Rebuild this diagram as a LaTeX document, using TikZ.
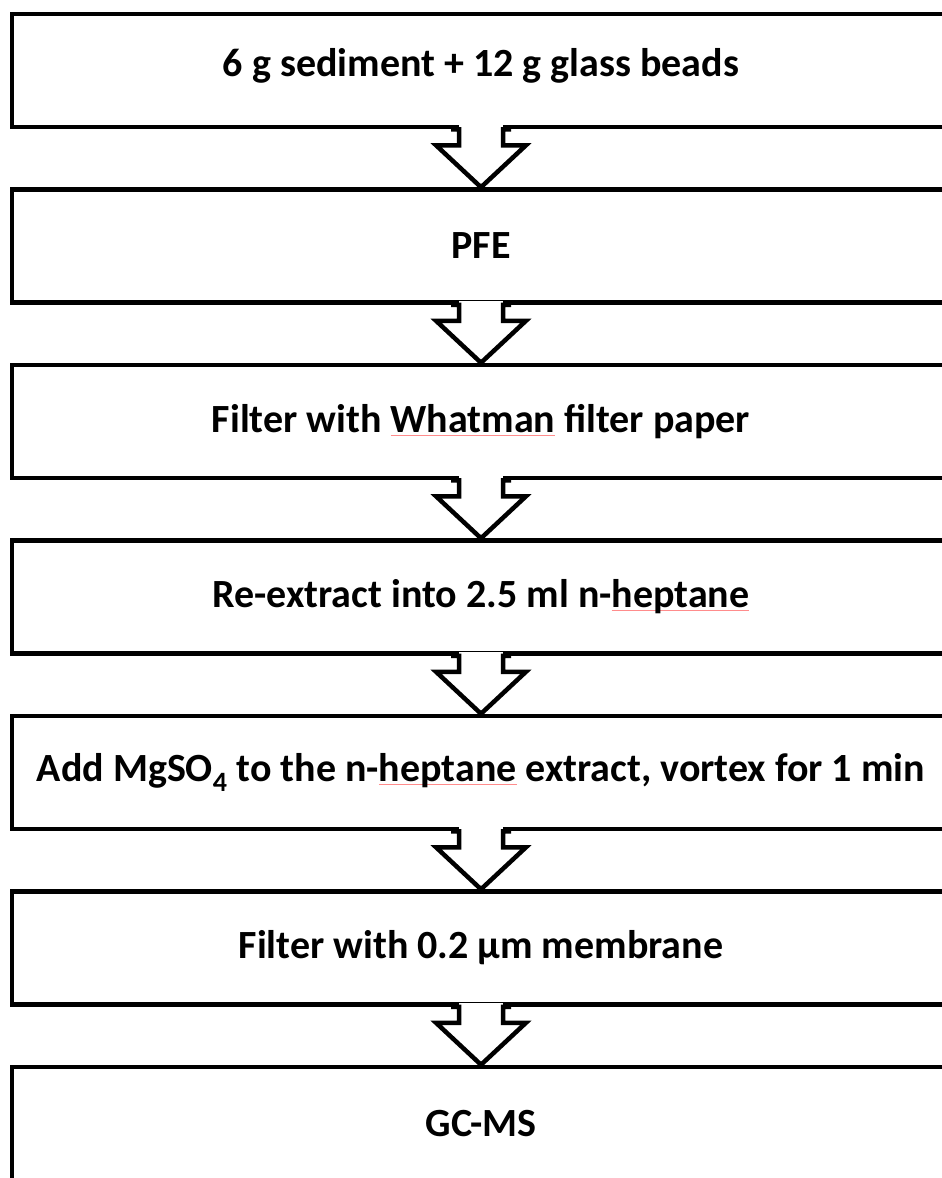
\documentclass[tikz,border=0pt]{standalone}
\usepackage{fontspec}
\setmainfont{Carlito}
\usetikzlibrary{calc}
\newcommand\spellul[1]{\setbox0\hbox{#1}\rlap{\color{red!45}\rule[-3pt]{\wd0}{0.8pt}}\box0\relax}
\tikzset{
  stepbox/.style={draw=black, line width=4.5pt, minimum width=938pt, minimum height=113pt,
    inner sep=0pt, font=\fontsize{40}{44}\selectfont\bfseries, align=center},
  flowarrow/.style={draw=black, line width=4.5pt, line join=miter, fill=white}
}
\newcommand\flowarr[2]{%
  \fill[white] ($(#1.south)+(-22,-4)$) rectangle ($(#1.south)+(22,4)$);
  \draw[flowarrow] ($(#1.south)+(-30,0)$) -- ($(#1.south)+(-22,0)$) -- ($(#1.south)+(-22,16)$)
    -- ($(#1.south)+(-45,16)$) -- (#2.north) -- ($(#1.south)+(45,16)$) -- ($(#1.south)+(22,16)$)
    -- ($(#1.south)+(22,0)$) -- ($(#1.south)+(30,0)$);
}
\begin{document}
\begin{tikzpicture}[x=1pt,y=-1pt]
\useasboundingbox (0,0) rectangle (942,1178);
\fill[white] (0,0) rectangle (942,1178);
\begin{scope}
\clip (0,0) rectangle (942,1178);
\node[stepbox] (b1) at (481,70.5) {\raisebox{16pt}{6 g sediment + 12 g glass beads}};
\node[stepbox] (b2) at (481,246) {PFE};
\node[stepbox] (b3) at (481,421.5) {Filter with \spellul{Whatman} filter paper};
\node[stepbox] (b4) at (481,597) {Re-extract into 2.5 ml n-\spellul{heptane}};
\node[stepbox] (b5) at (481,772.5) {Add MgSO\textsubscript{4} to the n-\spellul{heptane} extract, vortex for 1 min};
\node[stepbox] (b6) at (481,948) {Filter with 0.2 µm membrane};
\node[stepbox] (b7) at (481,1123.5) {GC-MS};
\flowarr{b1}{b2}
\flowarr{b2}{b3}
\flowarr{b3}{b4}
\flowarr{b4}{b5}
\flowarr{b5}{b6}
\flowarr{b6}{b7}
\end{scope}
\end{tikzpicture}
\end{document}
